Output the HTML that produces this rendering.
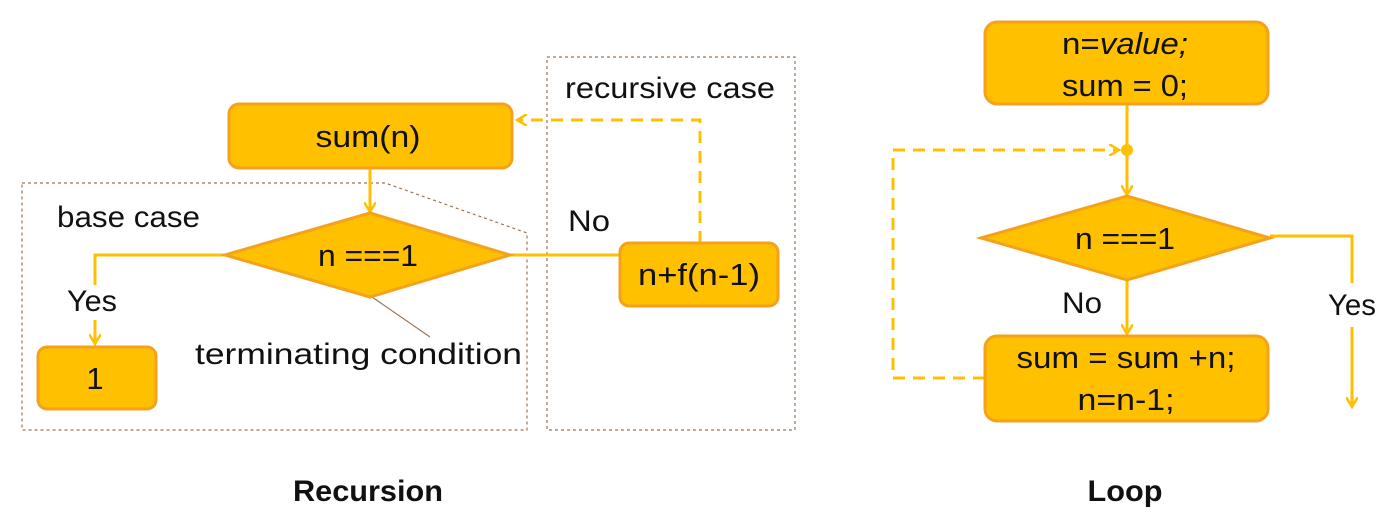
<!DOCTYPE html>
<html><head><meta charset="utf-8"><style>
html,body{margin:0;padding:0;background:#fff;}
svg{display:block;}
text{font-family:"Liberation Sans",sans-serif;fill:#111;}
</style></head><body>
<svg width="1400" height="528" viewBox="0 0 1400 528">
<defs>
<marker id="ar" markerWidth="12" markerHeight="12" refX="9" refY="6" orient="auto" markerUnits="userSpaceOnUse"><path d="M0,0 L10,6 L0,12" fill="none" stroke="#FFC000" stroke-width="2.5"/></marker>
</defs>
<path d="M22,183 L385,183 L527,233 L527,430 L22,430 Z" fill="none" stroke="#9a7656" stroke-width="1.2" stroke-dasharray="3,3"/>
<rect x="547" y="57" width="248" height="373" fill="none" stroke="#9a7656" stroke-width="1.2" stroke-dasharray="3,3"/>
<text x="565" y="98" font-size="30" textLength="210" lengthAdjust="spacingAndGlyphs">recursive case</text>
<text x="57" y="227" font-size="30" textLength="143" lengthAdjust="spacingAndGlyphs">base case</text>

<line x1="370" y1="168" x2="370" y2="211" stroke="#FFC000" stroke-width="3" marker-end="url(#ar)"/>
<polyline points="225,255 95,255 95,285" fill="none" stroke="#FFC000" stroke-width="3"/>
<line x1="95" y1="320" x2="95" y2="343" stroke="#FFC000" stroke-width="3" marker-end="url(#ar)"/>
<line x1="510" y1="255" x2="620" y2="255" stroke="#FFC000" stroke-width="3"/>
<polyline points="700,243 700,120 518,120" fill="none" stroke="#FFC000" stroke-width="3" stroke-dasharray="12,8" marker-end="url(#ar)"/>
<line x1="372" y1="297" x2="430" y2="337" stroke="#9a7656" stroke-width="1.2"/>

<rect x="229" y="104" width="283" height="64" rx="10" fill="#FFC000" stroke="#F4A21C" stroke-width="3"/>
<text x="368" y="147" font-size="31" text-anchor="middle" textLength="105" lengthAdjust="spacingAndGlyphs">sum(n)</text>
<polygon points="225,255 370,213 510,255 370,297" fill="#FFC000" stroke="#F4A21C" stroke-width="3"/>
<text x="368" y="266" font-size="31" text-anchor="middle" textLength="100" lengthAdjust="spacingAndGlyphs">n ===1</text>
<rect x="38" y="347" width="118" height="62" rx="9" fill="#FFC000" stroke="#F4A21C" stroke-width="3"/>
<text x="95" y="389" font-size="31" text-anchor="middle">1</text>
<rect x="620" y="243" width="158" height="63" rx="9" fill="#FFC000" stroke="#F4A21C" stroke-width="3"/>
<text x="699" y="285" font-size="31" text-anchor="middle" textLength="122" lengthAdjust="spacingAndGlyphs">n+f(n-1)</text>
<text x="92" y="311" font-size="30" text-anchor="middle" textLength="50" lengthAdjust="spacingAndGlyphs">Yes</text>
<text x="589" y="231" font-size="30" text-anchor="middle" textLength="42" lengthAdjust="spacingAndGlyphs">No</text>
<text x="195" y="364" font-size="30" textLength="327" lengthAdjust="spacingAndGlyphs">terminating condition</text>

<line x1="1127" y1="104" x2="1127" y2="150" stroke="#FFC000" stroke-width="3"/>
<circle cx="1127" cy="150" r="6" fill="#FFC000"/>
<line x1="1127" y1="150" x2="1127" y2="194" stroke="#FFC000" stroke-width="3" marker-end="url(#ar)"/>
<polyline points="1270,236 1352,236 1352,283" fill="none" stroke="#FFC000" stroke-width="3"/>
<line x1="1352" y1="327" x2="1352" y2="406" stroke="#FFC000" stroke-width="3" marker-end="url(#ar)"/>
<line x1="1127" y1="280" x2="1127" y2="333" stroke="#FFC000" stroke-width="3" marker-end="url(#ar)"/>
<polyline points="985,378 893,378 893,150 1118,150" fill="none" stroke="#FFC000" stroke-width="3" stroke-dasharray="12,8" marker-end="url(#ar)"/>

<rect x="985" y="22" width="283" height="82" rx="12" fill="#FFC000" stroke="#F4A21C" stroke-width="3"/>
<text x="1125" y="54" font-size="31" text-anchor="middle" textLength="126" lengthAdjust="spacingAndGlyphs">n=<tspan font-style="italic">value;</tspan></text>
<text x="1125" y="96" font-size="31" text-anchor="middle" textLength="126" lengthAdjust="spacingAndGlyphs">sum = 0;</text>
<polygon points="981,238 1127,196 1270,238 1127,280" fill="#FFC000" stroke="#F4A21C" stroke-width="3"/>
<text x="1125" y="249" font-size="31" text-anchor="middle" textLength="100" lengthAdjust="spacingAndGlyphs">n ===1</text>
<rect x="985" y="336" width="283" height="85" rx="12" fill="#FFC000" stroke="#F4A21C" stroke-width="3"/>
<text x="1126" y="368" font-size="31" text-anchor="middle" textLength="219" lengthAdjust="spacingAndGlyphs">sum = sum +n;</text>
<text x="1126" y="410" font-size="31" text-anchor="middle" textLength="97" lengthAdjust="spacingAndGlyphs">n=n-1;</text>
<text x="1082" y="313" font-size="30" text-anchor="middle" textLength="40" lengthAdjust="spacingAndGlyphs">No</text>
<text x="1352" y="315" font-size="30" text-anchor="middle" textLength="48" lengthAdjust="spacingAndGlyphs">Yes</text>

<text x="368" y="501" font-size="30" font-weight="bold" text-anchor="middle" textLength="150" lengthAdjust="spacingAndGlyphs">Recursion</text>
<text x="1125" y="501" font-size="30" font-weight="bold" text-anchor="middle" textLength="75" lengthAdjust="spacingAndGlyphs">Loop</text>
</svg>
</body></html>
